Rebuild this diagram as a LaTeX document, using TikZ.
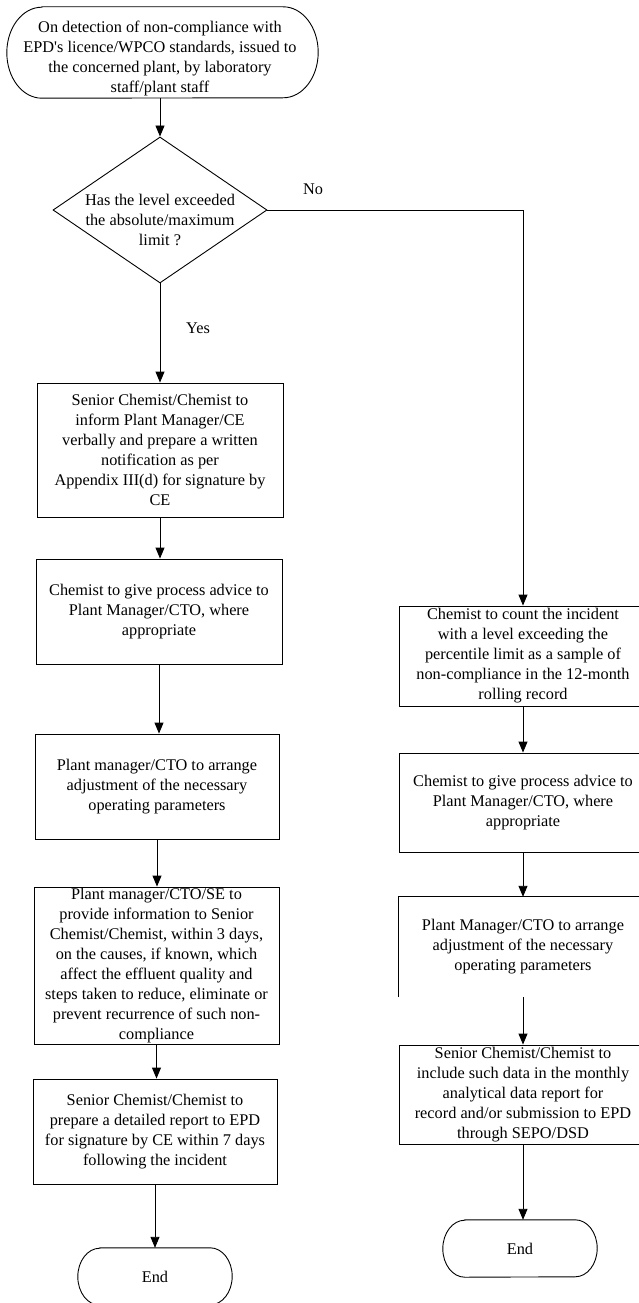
\documentclass[tikz,border=0pt]{standalone}
\usepackage{fontspec}
\setmainfont{Liberation Serif}[Ligatures=TeXOff]
\usetikzlibrary{shapes.geometric,arrows.meta,calc}
\newcommand\drawterminal[3]{%
  \draw[lw] ([xshift=#2pt]#1.north west) -- ([xshift=-#2pt]#1.north east)
    arc[start angle=90,end angle=-90,x radius=#2pt,y radius=#3pt]
    -- ([xshift=#2pt]#1.south west)
    arc[start angle=270,end angle=90,x radius=#2pt,y radius=#3pt] -- cycle;}
\begin{document}
\begin{tikzpicture}[x=1pt,y=-1pt,
  lw/.style={line width=0.9pt},
  txt/.style={font=\fontsize{16.3}{20}\selectfont, align=center, inner sep=0pt},
  box/.style={txt, draw, lw, rectangle},
  arr/.style={lw, -{Triangle[length=11pt,width=9pt]}},
  lab/.style={font=\fontsize{16.3}{20}\selectfont, inner sep=0pt}]
\clip (0,0) rectangle (639,1303);
\fill[white] (0,0) rectangle (639,1303);

% start terminal
\node[minimum width=311pt, minimum height=91pt, inner sep=0pt] (start) at (162.5,52.5) {};
\drawterminal{start}{35}{45.5}
\node[txt] (starttext) at (160,58) {On detection of non-compliance with\\EPD's licence/WPCO standards, issued to\\the concerned plant, by laboratory\\staff/plant staff};

% decision
\node[diamond, draw, lw, minimum width=214pt, minimum height=146pt, inner sep=0pt] (dec) at (160,210) {};
\node[txt] (dectext) at (160,220) {Has the level exceeded\\the absolute/maximum\\limit ?};

% left column
\node[box, minimum width=246pt, minimum height=134pt] (b1) at (160,450) {Senior Chemist/Chemist to\\inform Plant Manager/CE\\verbally and prepare a written\\notification as per\\Appendix III(d) for signature by\\CE};
\node[box, minimum width=246pt, minimum height=105pt] (b2) at (159,611.5) {Chemist to give process advice to\\Plant Manager/CTO, where\\appropriate};
\node[box, minimum width=244pt, minimum height=105pt] (b3) at (157,786.5) {Plant manager/CTO to arrange\\adjustment of the necessary\\operating parameters};
\node[box, minimum width=245pt, minimum height=157pt] (b4) at (156.5,965.5) {Plant manager/CTO/SE to\\provide information to Senior\\Chemist/Chemist, within 3 days,\\on the causes, if known, which\\affect the effluent quality and\\steps taken to reduce, eliminate or\\prevent recurrence of such non-\\compliance};
\node[box, minimum width=244pt, minimum height=105pt] (b5) at (155,1131.5) {Senior Chemist/Chemist to\\prepare a detailed report to EPD\\for signature by CE within 7 days\\following the incident};
\node[txt, minimum width=154pt, minimum height=57pt] (end1) at (155,1276.5) {End};
\drawterminal{end1}{22}{28.5}

% right column
\node[box, minimum width=248pt, minimum height=100pt] (r1) at (523,656) {Chemist to count the incident\\with a level exceeding the\\percentile limit as a sample of\\non-compliance in the 12-month\\rolling record};
\node[box, minimum width=248pt, minimum height=99pt] (r2) at (523,802.5) {Chemist to give process advice to\\Plant Manager/CTO, where\\appropriate};
\node[txt, minimum width=248pt, minimum height=100pt] (r3) at (523,947) {Plant Manager/CTO to arrange\\adjustment of the necessary\\operating parameters};
\draw[lw] (r3.south west) -- (r3.north west) -- (r3.north east);
\node[box, minimum width=248pt, minimum height=99pt] (r4) at (523,1094.5) {Senior Chemist/Chemist to\\include such data in the monthly\\analytical data report for\\record and/or submission to EPD\\through SEPO/DSD};
\node[txt, minimum width=154pt, minimum height=57pt] (rend) at (520,1248.5) {End};
\drawterminal{rend}{22}{28.5}

% labels
\node[lab] (nolab) at (313,189) {No};
\node[lab] (yeslab) at (198,328) {Yes};

% connectors
\draw[arr] (start.south -| dec.north) -- (dec.north);
\draw[arr] (dec.south) -- (b1.north);
\draw[arr] (b1.south) -- (b1.south |- b2.north);
\draw[arr] (b2.south) -- (b2.south |- b3.north);
\draw[arr] (b3.south) -- (b3.south |- b4.north);
\draw[arr] (b4.south) -- (b4.south |- b5.north);
\draw[arr] (b5.south) -- (b5.south |- end1.north);
\draw[arr] (dec.east) -| (r1.north);
\draw[arr] (r1.south) -- (r2.north);
\draw[arr] (r2.south) -- (r3.north);
\draw[arr] (r3.south) -- (r4.north);
\draw[arr] (r4.south) -- (r4.south |- rend.north);
\end{tikzpicture}
\end{document}
